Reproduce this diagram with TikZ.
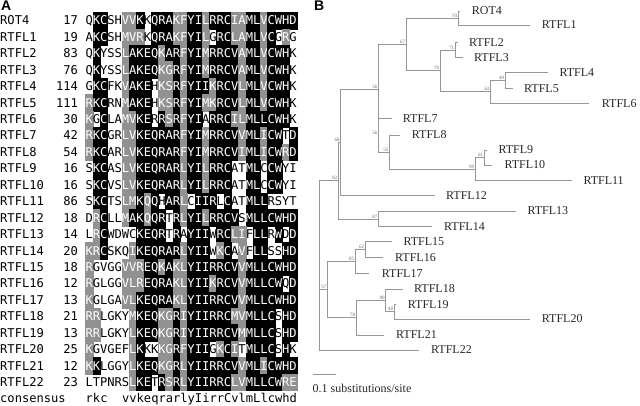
\documentclass[tikz,border=0pt]{standalone}
\usepackage{fontspec}
\setmainfont{Liberation Serif}
\newfontfamily\alnfamily{DejaVu Sans Mono}
\newfontfamily\panelfamily{Liberation Sans}
\definecolor{shadegray}{RGB}{145,145,145}
\definecolor{treegray}{RGB}{150,150,150}
\definecolor{bootgray}{RGB}{110,110,110}
\definecolor{leafcol}{RGB}{40,40,40}
\newcommand\alnf{\alnfamily\fontsize{12.1pt}{14pt}\selectfont}
\newcommand\shrule[3]{\foreach \L in {#2}{\expandafter\xdef\csname sh-#1-\L\endcsname{#3}}}
\shrule{1}{R,K}{g}
\shrule{2}{K}{k}\shrule{2}{R}{g}
\shrule{3}{C}{k}
\shrule{6}{V,L,I,M}{g}
\shrule{7}{A}{k}\shrule{7}{V,L,I,M}{g}
\shrule{8}{K}{k}\shrule{8}{R}{g}
\shrule{9}{E}{k}\shrule{9}{Q}{g}
\shrule{10}{Q}{k}\shrule{10}{E}{g}
\shrule{11}{R}{k}\shrule{11}{K}{g}
\shrule{12}{A}{k}\shrule{12}{G,S}{g}
\shrule{13}{R}{k}\shrule{13}{K}{g}
\shrule{14}{L,F,I}{g}
\shrule{15}{Y}{k}
\shrule{16}{I}{k}
\shrule{17}{I}{k}\shrule{17}{L,M}{g}
\shrule{18}{R}{k}\shrule{18}{K}{g}
\shrule{19}{R}{k}\shrule{19}{K}{g}
\shrule{20}{C}{k}
\shrule{21}{V}{k}\shrule{21}{I,L,M}{g}
\shrule{22}{A,L,V,I,M}{g}
\shrule{23}{M}{k}
\shrule{24}{L}{k}
\shrule{25}{L}{k}\shrule{25}{V,I}{g}
\shrule{26}{C}{k}
\shrule{27}{W}{k}
\shrule{28}{H}{k}\shrule{28}{R}{g}
\shrule{29}{D}{k}\shrule{29}{E}{g}
\newcount\colc
\def\xzero{85.5}
\def\cw{7.285}
\def\ytop{20.5}
\def\pitch{16.44}
\newcommand\seqrow[4]{%
  \node[namecell] (nm#1) at (0, {\ytop+(#1-1)*\pitch}) {#2};
  \node[numcell] (no#1) at (78.2, {\ytop+(#1-1)*\pitch}) {#3};
  \global\colc=0
  \gdef\currow{#1}%
  \seqloop#4\relax}
\def\seqloop#1{\ifx#1\relax\else\seqcell{#1}\expandafter\seqloop\fi}
\newcommand\seqcell[1]{%
  \global\advance\colc by 1
  \ifcsname sh-\the\colc-#1\endcsname
    \edef\code{\csname sh-\the\colc-#1\endcsname}%
  \else\def\code{w}\fi
  \node[cell\code] (c\currow-\the\colc) at ({\xzero+(\the\colc-0.5)*\cw}, {\ytop+(\currow-1)*\pitch}) {#1};}
\newcommand\treeleaf[5]{%
  \coordinate (e-#1) at (#3,#2);
  \node[leaf] (l-#1) at (#4,#2) {#1};
  \draw[treeline] (#5) |- (e-#1);}
\newcommand\boot[2]{\node[boot] (b-#1) at ([xshift=-0.8pt,yshift=0.7pt]#1) {#2};}
\begin{document}
\begin{tikzpicture}[x=1pt,y=-1pt,
  cellbase/.style={inner sep=0pt, outer sep=0pt, minimum width=7.285pt, minimum height=16.44pt, text height=8.8pt, text depth=0pt, font=\alnf},
  cellk/.style={cellbase, fill=black, draw=black, line width=0.3pt, text=white},
  cellg/.style={cellbase, fill=shadegray, draw=shadegray, line width=0.3pt, text=white},
  cellw/.style={cellbase, text=black},
  namecell/.style={inner sep=0pt, text height=8.8pt, text depth=0pt, font=\alnf, anchor=west},
  numcell/.style={namecell, anchor=east},
  conscell/.style={inner sep=0pt, font=\alnf},
  panel/.style={inner sep=0pt, anchor=north west, font=\panelfamily\bfseries\fontsize{14pt}{16pt}\selectfont},
  treeline/.style={draw=treegray, line width=0.8pt},
  leaf/.style={font=\fontsize{12pt}{14pt}\selectfont, text=leafcol, inner sep=0pt, anchor=west},
  boot/.style={font=\fontsize{5pt}{6pt}\selectfont, text=bootgray, inner sep=0pt, anchor=south east}]
\useasboundingbox (0,0) rectangle (640,405);
\fill[white] (0,0) rectangle (640,405);
% Panel A
\node[panel] (pA) at (1,0.5) {A};
\seqrow{1}{ROT4}{17}{QKCSHVVKKQRAKFYILRRCIAMLVCWHD}
\seqrow{2}{RTFL1}{19}{AKCSHMVRKQRAKFYILGRCLAMLVCGRG}
\seqrow{3}{RTFL2}{83}{QKYSSLAKEQKARFYIMRRCVAMLVCWHK}
\seqrow{4}{RTFL3}{76}{QKYSSLAKEQKGRFYIMRRCVAMLVCWHK}
\seqrow{5}{RTFL4}{114}{GKCFKVAKEHKSRFYIIKRCVLMLVCWHK}
\seqrow{6}{RTFL5}{111}{RKCRNMAKEHKSRFYIMKRCVLMLVCWHK}
\seqrow{7}{RTFL6}{30}{KGCLAMVKERRSRFYIARRCILMLLCWHK}
\seqrow{8}{RTFL7}{42}{RKCGRLVKEQRARFYIMRRCVVMLICWTD}
\seqrow{9}{RTFL8}{54}{RKCARLVKEQRARFYIMRRCVIMLICWRD}
\seqrow{10}{RTFL9}{16}{SKCASLVKEQRARLYILRRCATMLCCWYI}
\seqrow{11}{RTFL10}{16}{SKCVSLVKEQRARLYILRRCATMLCCWYI}
\seqrow{12}{RTFL11}{86}{SKCTSLMKQQHARLCIIRLCATMLLRSYT}
\seqrow{13}{RTFL12}{18}{DRCLLMAKQQRTRLYILRRCVSMLLCWHD}
\seqrow{14}{RTFL13}{14}{LRCWDWCKEQRTRAYIIWRCLIFLLRWDD}
\seqrow{15}{RTFL14}{20}{KRCSKQIKEQRARLYIIWKCAVFLLSSHD}
\seqrow{16}{RTFL15}{18}{RGVGGVVREQKAKLYIIRRCVVMLLCWHD}
\seqrow{17}{RTFL16}{12}{RGLGGVLREQRAKLYIIKRCVVMLLCWQD}
\seqrow{18}{RTFL17}{13}{KGLGAVLKEQRAKLYIIRRCVVMLLCWHD}
\seqrow{19}{RTFL18}{21}{RRLGKYMKEQKGRIYIIRRCMVMLLCSHD}
\seqrow{20}{RTFL19}{13}{RRLGKYLKEQKGRIYIIRRCVMMLLCSHD}
\seqrow{21}{RTFL20}{25}{KGVGEFLKKKKGRFYIIGKCITMLLCSHK}
\seqrow{22}{RTFL21}{12}{KKLGGYLKEQKGRLYIIRRCVVMLICWHD}
\seqrow{23}{RTFL22}{23}{LTPNRSLKETRSRLYIIRRCLVMLLCWRE}
\node[conscell, anchor=base west] (consname) at (0, 402) {consensus};
\node[conscell, anchor=base west] (cons1) at (85.5, 402) {rkc};
\node[conscell, anchor=base west] (cons2) at ({85.5+5*7.285}, 402) {vvkeqrarlyIirrCvlmLlcwhd};
% Panel B
\node[panel] (pB) at (314,0.5) {B};
\coordinate (root) at (319,265);
\coordinate (n82) at (338.3,180.7);
\coordinate (n68) at (340.7,142.5);
\coordinate (n56a) at (378.3,89.5);
\coordinate (n67) at (406,44.5);
\coordinate (n93) at (458.3,18.3);
\coordinate (n70) at (440,70.8);
\coordinate (n71) at (455,50);
\coordinate (n62a) at (490.7,91.8);
\coordinate (n49) at (505,80.5);
\coordinate (n56b) at (378.3,135);
\coordinate (n55) at (389.3,152);
\coordinate (n99) at (475,169.3);
\coordinate (n61) at (484,157.5);
\coordinate (n87) at (378.3,219);
\coordinate (n57) at (327.3,289.6);
\coordinate (n85) at (355,261.5);
\coordinate (n62b) at (365,249.7);
\coordinate (n78) at (356,317.7);
\coordinate (n90) at (385.7,300.3);
\coordinate (n48) at (394,311.7);
\foreach \p/\c in {root/n82,root/n57,n82/n68,n82/n87,n68/n56a,n56a/n67,n56a/n56b,n67/n93,n67/n70,n70/n71,n70/n62a,n62a/n49,n56b/n55,n55/n99,n99/n61,n57/n85,n57/n78,n85/n62b,n78/n90,n90/n48}
  \draw[treeline] (\p) |- (\c);
\treeleaf{ROT4}{11}{459.5}{471.7}{n93}
\treeleaf{RTFL1}{25}{530}{541.7}{n93}
\treeleaf{RTFL2}{42.7}{457.5}{469}{n71}
\treeleaf{RTFL3}{57.3}{463.3}{474}{n71}
\treeleaf{RTFL4}{72.7}{548.3}{559.3}{n49}
\treeleaf{RTFL5}{88.3}{513.3}{524}{n49}
\treeleaf{RTFL6}{103.3}{589.3}{601.7}{n62a}
\treeleaf{RTFL7}{118.3}{391.7}{402.7}{n56b}
\treeleaf{RTFL8}{135}{400}{411.7}{n55}
\treeleaf{RTFL9}{150}{486.5}{498.3}{n61}
\treeleaf{RTFL10}{165}{492.3}{504.3}{n61}
\treeleaf{RTFL11}{180.7}{571.7}{583.3}{n99}
\treeleaf{RTFL12}{195.7}{435}{446}{n68}
\treeleaf{RTFL13}{211}{516}{527.3}{n87}
\treeleaf{RTFL14}{226.7}{431.7}{444}{n87}
\treeleaf{RTFL15}{241.7}{391.7}{403.3}{n62b}
\treeleaf{RTFL16}{257.7}{383.3}{395}{n62b}
\treeleaf{RTFL17}{273.3}{369.3}{381.7}{n85}
\treeleaf{RTFL18}{289}{402.7}{414}{n90}
\treeleaf{RTFL19}{304.3}{396}{407.7}{n48}
\treeleaf{RTFL20}{319}{530}{541.7}{n48}
\treeleaf{RTFL21}{335}{384}{396}{n78}
\treeleaf{RTFL22}{350}{419.3}{431}{root}
\boot{n93}{93}\boot{n67}{67}\boot{n71}{71}\boot{n70}{70}\boot{n62a}{62}
\boot{n49}{49}\boot{n56a}{56}\boot{n56b}{56}\boot{n55}{55}\boot{n99}{99}
\boot{n61}{61}\boot{n68}{68}\boot{n82}{82}\boot{n87}{87}\boot{n62b}{62}
\boot{n85}{85}\boot{n57}{57}\boot{n78}{78}\boot{n90}{90}\boot{n48}{48}
% scale bar
\coordinate (sb1) at (313,374.3);
\coordinate (sb2) at (336,374.3);
\draw[treeline] (sb1) -- (sb2);
\node[leaf, anchor=base west] (sbl) at (312.5,392) {0.1 substitutions/site};
\end{tikzpicture}
\end{document}
